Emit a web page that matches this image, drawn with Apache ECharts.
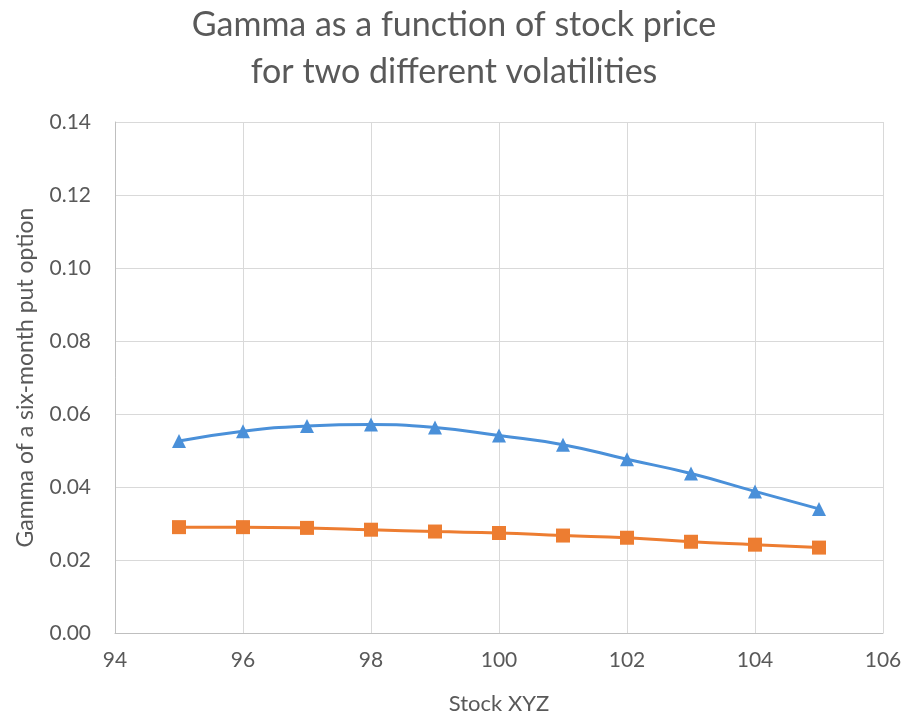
<!DOCTYPE html>
<html>
<head>
<meta charset="utf-8">
<script src="https://cdn.jsdelivr.net/npm/echarts@6/dist/echarts.min.js"></script>
<style>
  html, body { margin: 0; padding: 0; background: #fff; }
  #chart { width: 908px; height: 717px; }
</style>
</head>
<body>
<div id="chart"></div>
<script>
  // stock price (x) and gamma values
  var stockPrice = [95, 96, 97, 98, 99, 100, 101, 102, 103, 104, 105];
  var gammaLowVol = [0.0290, 0.0290, 0.0288, 0.0283, 0.0278, 0.0274, 0.0267, 0.0261, 0.0250, 0.0242, 0.0234];
  var gammaHighVol = [0.0526, 0.0553, 0.0567, 0.0571, 0.0563, 0.0541, 0.0516, 0.0476, 0.0437, 0.0388, 0.0340];

  function pairs(xs, ys) {
    return xs.map(function (x, i) { return [x, ys[i]]; });
  }

  var font = 'Lato, "Open Sans", sans-serif';
  var textGrey = '#595959';

  var chart = echarts.init(document.getElementById('chart'));
  chart.setOption({
    animation: false,
    title: {
      text: 'Gamma as a function of stock price\nfor two different volatilities',
      left: 'center',
      top: -3,
      textStyle: { fontFamily: font, fontSize: 34, fontWeight: 'normal', color: textGrey, lineHeight: 47 }
    },
    grid: { left: 115, right: 25, top: 122, bottom: 84, outerBoundsMode: 'none' },
    xAxis: {
      type: 'value',
      min: 94, max: 106, interval: 2,
      name: 'Stock XYZ',
      nameLocation: 'middle',
      nameGap: 60,
      nameTextStyle: { fontFamily: font, fontSize: 22, color: textGrey },
      axisLine: { lineStyle: { color: '#bfbfbf' } },
      axisTick: { show: false },
      axisLabel: { fontFamily: font, fontSize: 21, color: textGrey, margin: 17 },
      splitLine: { lineStyle: { color: '#d9d9d9' } }
    },
    yAxis: {
      type: 'value',
      min: 0, max: 0.14, interval: 0.02,
      name: 'Gamma of a six-month put option',
      nameLocation: 'middle',
      nameGap: 78,
      nameTextStyle: { fontFamily: font, fontSize: 23, color: textGrey },
      axisLine: { show: true, lineStyle: { color: '#bfbfbf' } },
      axisTick: { show: false },
      axisLabel: { fontFamily: font, fontSize: 21, color: textGrey, margin: 24,
        formatter: function (v) { return v.toFixed(2); } },
      splitLine: { lineStyle: { color: '#d9d9d9' } }
    },
    series: [
      {
        type: 'line',
        smooth: true,
        data: pairs(stockPrice, gammaHighVol),
        symbol: 'triangle',
        symbolSize: 14,
        lineStyle: { color: '#4a90d9', width: 3 },
        itemStyle: { color: '#4a90d9' }
      },
      {
        type: 'line',
        smooth: true,
        data: pairs(stockPrice, gammaLowVol),
        symbol: 'rect',
        symbolSize: 14,
        lineStyle: { color: '#ed7d31', width: 3 },
        itemStyle: { color: '#ed7d31' }
      }
    ]
  });
</script>
</body>
</html>
